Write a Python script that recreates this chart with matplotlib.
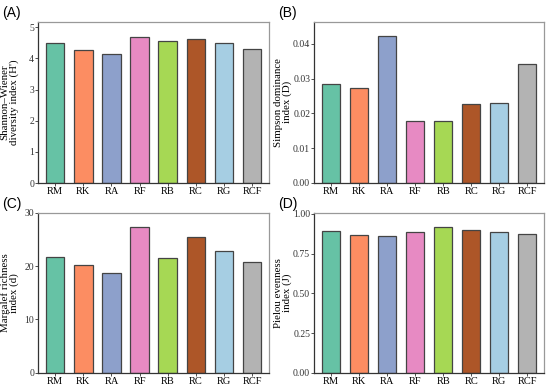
import matplotlib
matplotlib.use("Agg")
import matplotlib.pyplot as plt

categories = ["RM", "RK", "RA", "RF", "RB", "RC", "RG", "RCF"]
shannon = [4.50, 4.28, 4.15, 4.70, 4.55, 4.62, 4.50, 4.30]
simpson = [0.0286, 0.0274, 0.0422, 0.0179, 0.0179, 0.0227, 0.0230, 0.0342]
margalef = [21.7, 20.2, 18.8, 27.3, 21.6, 25.5, 22.8, 20.7]
pielou = [0.891, 0.868, 0.858, 0.889, 0.916, 0.900, 0.885, 0.872]
colors = ["#66c2a5", "#fc8d62", "#8da0cb", "#e78ac3", "#a6d854", "#ad5628", "#a6cee3", "#b3b3b3"]

panels = [
    ("(A)", shannon, "Shannon\u2013Wiener\ndiversity index (H')", [0, 1, 2, 3, 4, 5], ["0", "1", "2", "3", "4", "5"]),
    ("(B)", simpson, "Simpson dominance\nindex (D)", [0, 0.01, 0.02, 0.03, 0.04], ["0.00", "0.01", "0.02", "0.03", "0.04"]),
    ("(C)", margalef, "Margalef richness\nindex (d)", [0, 10, 20, 30], ["0", "10", "20", "30"]),
    ("(D)", pielou, "Pielou evenness\nindex (J)", [0, 0.25, 0.5, 0.75, 1.0], ["0.00", "0.25", "0.50", "0.75", "1.00"]),
]

W, H = 550, 385
fig = plt.figure(figsize=(5.5, 3.85), dpi=100)
boxes = [(38.3, 22, 269, 183), (314.3, 21.7, 544, 182.7), (38.3, 212.7, 269, 372.7), (314.3, 212.7, 544, 372.7)]
label_off = [19, 22, 19, 22]
serif = "Liberation Serif"
for (lab, vals, ylab, ticks, tlabels), (l, t, r, b), off in zip(panels, boxes, label_off):
    ax = fig.add_axes([l / W, 1 - b / H, (r - l) / W, (b - t) / H])
    x = range(len(categories))
    ax.bar(x, vals, width=0.66, color=colors, edgecolor="#444444", linewidth=0.9, zorder=2)
    ax.set_xlim(-0.6, 7.6)
    ax.set_ylim(0, max(vals) * 1.1)
    ax.set_xticks(list(x))
    ax.set_xticklabels(categories, fontfamily=serif, fontsize=7.5)
    ax.set_yticks(ticks)
    ax.set_yticklabels(tlabels, fontfamily=serif, fontsize=7, color="#333333")
    ax.tick_params(axis="both", length=2, width=0.6, pad=1, color="#333333")
    for s in ["top", "right"]:
        ax.spines[s].set_color("#999999")
        ax.spines[s].set_linewidth(0.9)
    for s in ["left", "bottom"]:
        ax.spines[s].set_color("#333333")
        ax.spines[s].set_linewidth(0.9)
    ax.set_ylabel(ylab, fontfamily=serif, fontsize=7.8, linespacing=1.0)
    ax.yaxis.set_label_coords(-off / (r - l), 0.5)
    fig.text((l - 36) / W, 1 - (t - 9) / H, lab, fontfamily="Liberation Sans", fontsize=10, va="center", ha="left")

fig.savefig("out.png", dpi=100)
